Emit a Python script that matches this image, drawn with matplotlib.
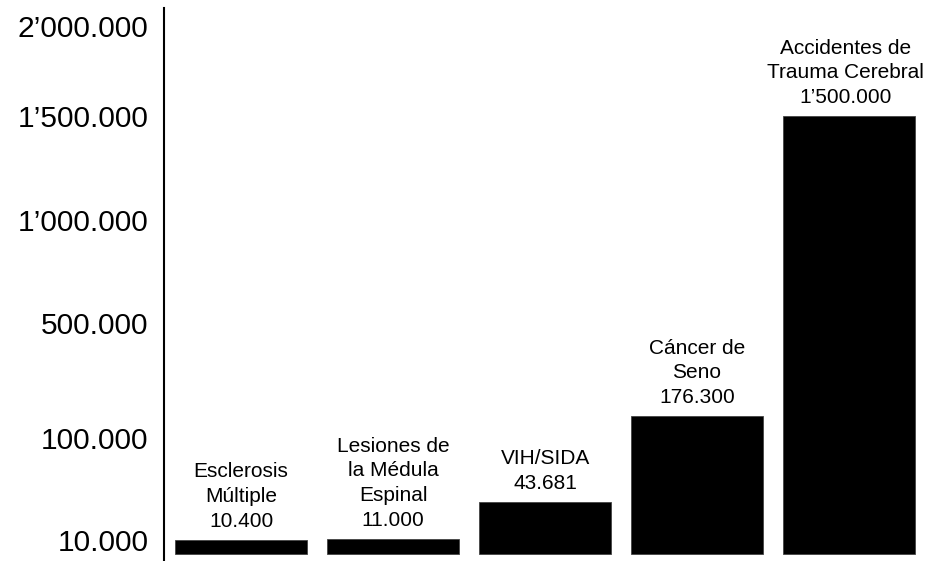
import numpy as np
import matplotlib
matplotlib.use("Agg")
import matplotlib.pyplot as plt

categories = ["Esclerosis\nMúltiple", "Lesiones de\nla Médula\nEspinal", "VIH/SIDA",
              "Cáncer de\nSeno", "Accidentes de\nTrauma Cerebral"]
values = [10400, 11000, 43681, 176300, 1500000]
tick_values = [10000, 100000, 500000, 1000000, 1500000, 2000000]

# non-linear (schematic) axis: breakpoints of a piecewise-linear scale
scale_vals = np.array([0, 10000, 100000, 500000, 1000000, 1500000, 2000000], dtype=float)
scale_pos = np.array([0, 14, 116, 231, 334, 438, 528], dtype=float)


def forward(v):
    v = np.asarray(v, dtype=float)
    out = np.interp(v, scale_vals, scale_pos)
    s0 = (scale_pos[1] - scale_pos[0]) / (scale_vals[1] - scale_vals[0])
    out = np.where(v < scale_vals[0], scale_pos[0] + (v - scale_vals[0]) * s0, out)
    s1 = (scale_pos[-1] - scale_pos[-2]) / (scale_vals[-1] - scale_vals[-2])
    out = np.where(v > scale_vals[-1], scale_pos[-1] + (v - scale_vals[-1]) * s1, out)
    return out


def inverse(p):
    p = np.asarray(p, dtype=float)
    out = np.interp(p, scale_pos, scale_vals)
    s0 = (scale_vals[1] - scale_vals[0]) / (scale_pos[1] - scale_pos[0])
    out = np.where(p < scale_pos[0], scale_vals[0] + (p - scale_pos[0]) * s0, out)
    s1 = (scale_vals[-1] - scale_vals[-2]) / (scale_pos[-1] - scale_pos[-2])
    out = np.where(p > scale_pos[-1], scale_vals[-1] + (p - scale_pos[-1]) * s1, out)
    return out


def fmt(v):
    v = int(round(v))
    millions, rest = divmod(v, 1000000)
    thousands, units = divmod(rest, 1000)
    if millions:
        return f"{millions}\u2019{thousands:03d}.{units:03d}"
    return f"{thousands}.{units:03d}"


plt.rcParams['font.family'] = ['Liberation Sans', 'DejaVu Sans']

fig = plt.figure(figsize=(9.25, 5.61), dpi=100)
ax = fig.add_axes([164 / 925, 0.0, 1 - 164 / 925, 553 / 561])
ax.set_yscale('function', functions=(forward, inverse))

x = np.arange(len(values))
ax.bar(x, values, width=0.87, color='black', edgecolor='#444444', linewidth=0.6)

ax.set_xlim(-0.507, 4.5)
ax.set_ylim(float(inverse(-7)), float(inverse(546)))

ax.set_yticks(tick_values)
ax.set_yticklabels([fmt(t) for t in tick_values], fontsize=21.5)
ax.yaxis.set_minor_locator(matplotlib.ticker.NullLocator())
ax.tick_params(axis='y', length=0, pad=11, colors='black')
ax.set_xticks([])

for s in ['top', 'right', 'bottom']:
    ax.spines[s].set_visible(False)
ax.spines['left'].set_linewidth(1.5)

texts = []
for xi, (cat, v) in enumerate(zip(categories, values)):
    t = ax.annotate(f"{cat}\n{fmt(v)}", xy=(xi, v), xytext=(0, 6.5), textcoords='offset points',
                    ha='center', va='bottom', fontsize=15, linespacing=1.38)
    texts.append(t)

# keep labels inside the figure
renderer = fig.canvas.get_renderer()
fig_w = fig.bbox.width
for t in texts:
    bb = t.get_window_extent(renderer)
    over = bb.x1 - (fig_w - 1)
    if over > 0:
        ox, oy = t.xyann
        t.xyann = (ox - over * 72 / fig.dpi, oy)

fig.savefig("out.png", dpi=100)
